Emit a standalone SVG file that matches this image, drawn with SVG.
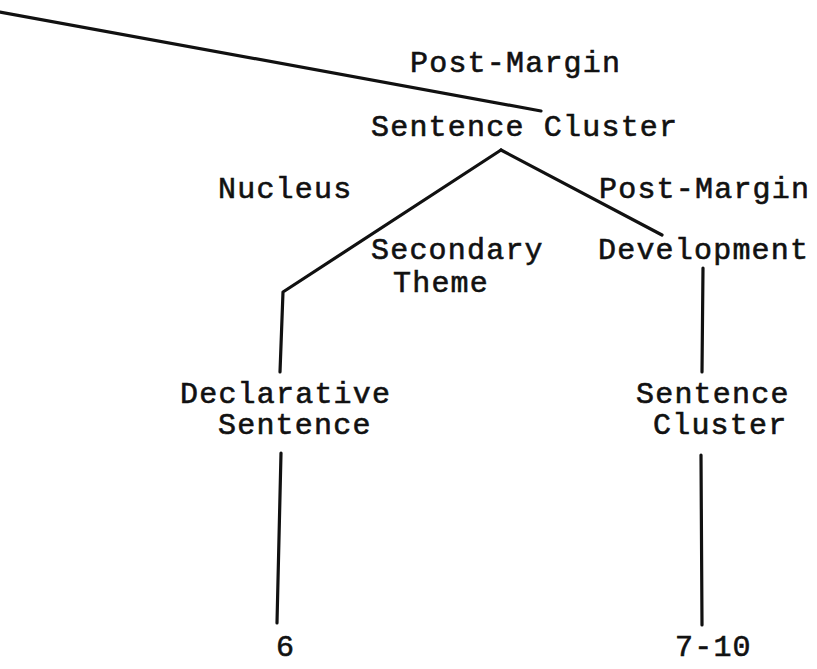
<svg xmlns="http://www.w3.org/2000/svg" width="817" height="669" viewBox="0 0 817 669">
<style>
text{font-family:"Liberation Mono","DejaVu Sans Mono",monospace;font-size:30px;letter-spacing:1.2px;fill:#111;stroke:#111;stroke-width:0.6px}
.e{fill:none;stroke:#111;stroke-width:3.2;stroke-linecap:round;stroke-linejoin:round}
</style>
<rect width="817" height="669" fill="#fff"/>
<g id="connectors">
<path class="e" d="M0,12 L541,111"/>
<path class="e" d="M501,150 L283,292 L280,372"/>
<path class="e" d="M501,150 L662,235"/>
<path class="e" d="M703,268 L702,372"/>
<path class="e" d="M281,453 L277,623"/>
<path class="e" d="M701,455 L702,625"/>
</g>
<g id="label-post-margin-top"><text x="410" y="72">Post-Margin</text></g>
<g id="node-sentence-cluster-root"><text x="371" y="136">Sentence Cluster</text></g>
<g id="label-nucleus"><text x="218" y="198">Nucleus</text></g>
<g id="label-post-margin-right"><text x="599" y="198">Post-Margin</text></g>
<g id="node-secondary-theme"><text x="371" y="259">Secondary</text><text x="393" y="292">Theme</text></g>
<g id="node-development"><text x="598" y="259">Development</text></g>
<g id="node-declarative-sentence"><text x="180" y="403">Declarative</text><text x="218" y="434">Sentence</text></g>
<g id="node-sentence-cluster-right"><text x="636" y="403">Sentence</text><text x="653" y="434">Cluster</text></g>
<g id="leaf-6"><text x="276" y="656">6</text></g>
<g id="leaf-7-10"><text x="675" y="656">7-10</text></g>
</svg>
